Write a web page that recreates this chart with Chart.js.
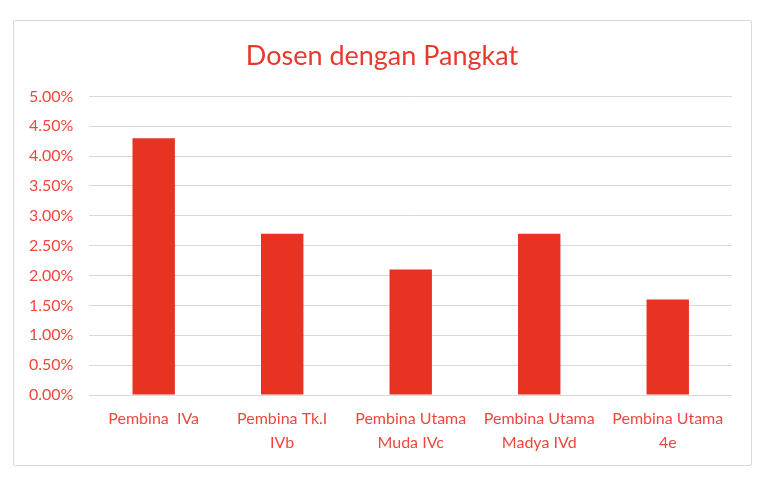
<!DOCTYPE html>
<html>
<head>
<meta charset="utf-8">
<script src="https://cdn.jsdelivr.net/npm/chart.js@4/dist/chart.umd.min.js"></script>
<style>
    html, body { margin: 0; padding: 0; background: #ffffff; }
    #page { position: relative; width: 768px; height: 481px; }
    #frame {
        position: absolute; left: 13px; top: 20px; width: 737px; height: 444px;
        border: 1px solid #d9d9d9; border-radius: 2px; background: #fff;
    }
    #rankChart { position: absolute; left: 0; top: 0; display: block; }
</style>
</head>
<body>
<div id="page">
    <div id="frame"></div>
    <canvas id="rankChart" width="768" height="481"></canvas>
</div>
<script>
// Dosen dengan Pangkat

const categories = [
    'Pembina  IVa',
    ['Pembina Tk.I', 'IVb'],
    ['Pembina Utama', 'Muda IVc'],
    ['Pembina Utama', 'Madya IVd'],
    ['Pembina Utama', '4e']
];
const shares = [0.043, 0.027, 0.021, 0.027, 0.016];
const yTicks = [0, 0.005, 0.01, 0.015, 0.02, 0.025, 0.03, 0.035, 0.04, 0.045, 0.05];

const labelFont = { family: 'Lato, "Open Sans", sans-serif', size: 16, lineHeight: 1.5 };

// centre the title on the frame rather than on the padded canvas
const centreTitle = {
    id: 'centreTitle',
    afterLayout(chart) {
        if (chart.titleBlock) {
            chart.titleBlock.left = 32;
        }
    }
};

const ctx = document.getElementById('rankChart').getContext('2d');
const rankChart = new Chart(ctx, {
    type: 'bar',
    data: {
        labels: categories,
        datasets: [{
            label: 'Dosen',
            data: shares,
            backgroundColor: '#e83323',
            borderWidth: 0,
            categoryPercentage: 1,
            barPercentage: 0.33
        }]
    },
    options: {
        responsive: false,
        animation: false,
        layout: { padding: { top: 0, right: 36, bottom: 14, left: 13 } },
        plugins: {
            legend: { display: false },
            tooltip: { enabled: false },
            title: {
                display: true,
                text: 'Dosen dengan Pangkat',
                color: '#e8392d',
                font: { family: 'Lato, "Open Sans", sans-serif', size: 27, weight: 'normal' },
                padding: { top: 40, bottom: 24 }
            }
        },
        scales: {
            x: {
                grid: { display: false, drawTicks: false },
                border: { display: false },
                ticks: { color: '#f0473c', font: labelFont, padding: 12, maxRotation: 0, autoSkip: false }
            },
            y: {
                min: 0,
                max: 0.05,
                afterBuildTicks: axis => { axis.ticks = yTicks.map(v => ({ value: v })); },
                grid: { color: '#d9d9d9', lineWidth: 1, drawTicks: false },
                border: { display: false },
                ticks: {
                    color: '#f0473c',
                    font: { family: 'Lato, "Open Sans", sans-serif', size: 16 },
                    padding: 16,
                    callback: v => (v * 100).toFixed(2) + '%'
                }
            }
        }
    },
    plugins: [centreTitle]
});
</script>
</body>
</html>
